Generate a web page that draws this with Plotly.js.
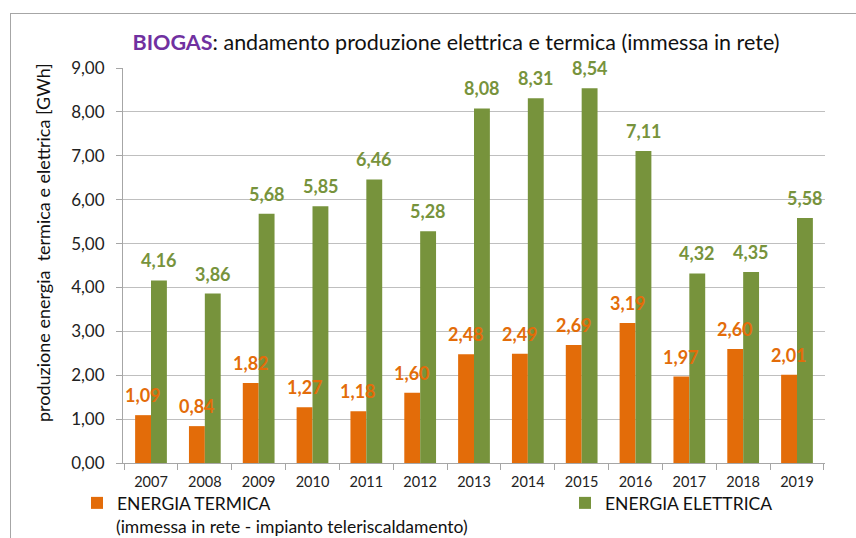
<!DOCTYPE html>
<html>
<head>
<meta charset="utf-8">
<script src="https://cdn.plot.ly/plotly-3.0.1.min.js"></script>
<style>
  html, body { margin: 0; padding: 0; background: #fff; }
  #wrap { position: relative; width: 856px; height: 538px; overflow: hidden; }
  #chart { position: absolute; left: 0; top: 0; width: 856px; height: 538px; }
  #frame { position: absolute; left: 10px; top: 13px; width: 900px; height: 600px;
           border: 1.5px solid #a6a6a6; pointer-events: none; }
</style>
</head>
<body>
<div id="wrap">
  <div id="chart"></div>
  <div id="frame"></div>
</div>
<script>
const years = ['2007','2008','2009','2010','2011','2012','2013','2014','2015','2016','2017','2018','2019'];
const termica = [1.09, 0.84, 1.82, 1.27, 1.18, 1.60, 2.48, 2.49, 2.69, 3.19, 1.97, 2.60, 2.01];
const elettrica = [4.16, 3.86, 5.68, 5.85, 6.46, 5.28, 8.08, 8.31, 8.54, 7.11, 4.32, 4.35, 5.58];
const yTicks = [0, 1, 2, 3, 4, 5, 6, 7, 8, 9];
const termicaName = 'ENERGIA TERMICA';
const termicaNote = '(immessa in rete - impianto teleriscaldamento)';
const elettricaName = 'ENERGIA ELETTRICA';

const ORANGE = '#E36C09';
const GREEN = '#77933C';
const FONT = 'Lato, "Open Sans", sans-serif';
const W = 856, H = 538;

const fmt = v => v.toFixed(2).replace('.', ',');

const traces = [
  {
    type: 'bar', name: termicaName,
    x: years, y: termica, marker: { color: ORANGE }, hoverinfo: 'x+y', legend: 'legend'
  },
  {
    type: 'bar', name: elettricaName,
    x: years, y: elettrica, marker: { color: GREEN }, hoverinfo: 'x+y', legend: 'legend2'
  }
];

// category axis annotations use the category's serial index
const annotations = [];
years.forEach((yr, i) => {
  annotations.push({ x: i, y: termica[i], xref: 'x', yref: 'y', text: fmt(termica[i]),
    showarrow: false, yanchor: 'bottom', xanchor: 'center', xshift: -8, yshift: 7,
    font: { family: FONT, size: 18, color: ORANGE, weight: 'bold' } });
  annotations.push({ x: i, y: elettrica[i], xref: 'x', yref: 'y', text: fmt(elettrica[i]),
    showarrow: false, yanchor: 'bottom', xanchor: 'center', xshift: 8, yshift: 7,
    font: { family: FONT, size: 18, color: GREEN, weight: 'bold' } });
});
// y-axis title
annotations.push({
  text: 'produzione energia  termica e elettrica [GWh]', textangle: -90,
  xref: 'paper', yref: 'paper', x: (43 - 123) / 702, y: (463 - 243) / 395,
  xanchor: 'center', yanchor: 'middle', showarrow: false,
  font: { family: FONT, size: 18, color: '#111' }
});
// second line of the thermal legend entry
annotations.push({
  text: termicaNote, xref: 'paper', yref: 'paper',
  x: (114 - 123) / 702, y: (463 - 526) / 395, xanchor: 'left', yanchor: 'middle',
  showarrow: false, font: { family: FONT, size: 17.5, color: '#111' }
});

const legendCommon = {
  orientation: 'h', xref: 'container', yref: 'container', yanchor: 'top', xanchor: 'left',
  font: { family: FONT, size: 17.5, color: '#111' }, itemwidth: 30,
  bgcolor: 'rgba(0,0,0,0)', borderwidth: 0
};

const layout = {
  width: W, height: H,
  margin: { l: 123, r: 31, t: 68, b: 75, autoexpand: false },
  paper_bgcolor: 'rgba(0,0,0,0)', plot_bgcolor: 'rgba(0,0,0,0)',
  separators: ',.',
  font: { family: FONT, color: '#222' },
  title: {
    text: '<b><span style="color:#7030A0">BIOGAS</span></b>: andamento produzione elettrica e termica (immessa in rete)',
    font: { family: FONT, size: 21.5, color: '#111' },
    x: 456 / W, xref: 'container', xanchor: 'center',
    y: 1 - 42 / H, yref: 'container', yanchor: 'middle'
  },
  barmode: 'group', bargap: 0.41, bargroupgap: 0,
  showlegend: true,
  legend: Object.assign({}, legendCommon, { x: 77 / W, y: 1 - 485 / H }),
  legend2: Object.assign({}, legendCommon, { x: 565 / W, y: 1 - 485 / H }),
  xaxis: {
    type: 'category', tickson: 'boundaries', ticks: 'outside', ticklen: 6,
    tickcolor: '#a6a6a6', showline: true, linecolor: '#a6a6a6', linewidth: 1,
    showgrid: false, tickfont: { family: FONT, size: 14.5, color: '#222' },
    ticklabelstandoff: 6, fixedrange: true
  },
  yaxis: {
    range: [0, 9], tickvals: yTicks, tickformat: '.2f', ticks: 'outside', ticklen: 6,
    tickcolor: '#a6a6a6', showline: true, linecolor: '#a6a6a6', linewidth: 1,
    showgrid: true, gridcolor: '#bfbfbf', gridwidth: 1, zeroline: false,
    tickfont: { family: FONT, size: 17, color: '#222' }, ticklabelstandoff: 8,
    fixedrange: true
  },
  annotations: annotations
};

Plotly.newPlot('chart', traces, layout, { displayModeBar: false, staticPlot: true });
</script>
</body>
</html>
